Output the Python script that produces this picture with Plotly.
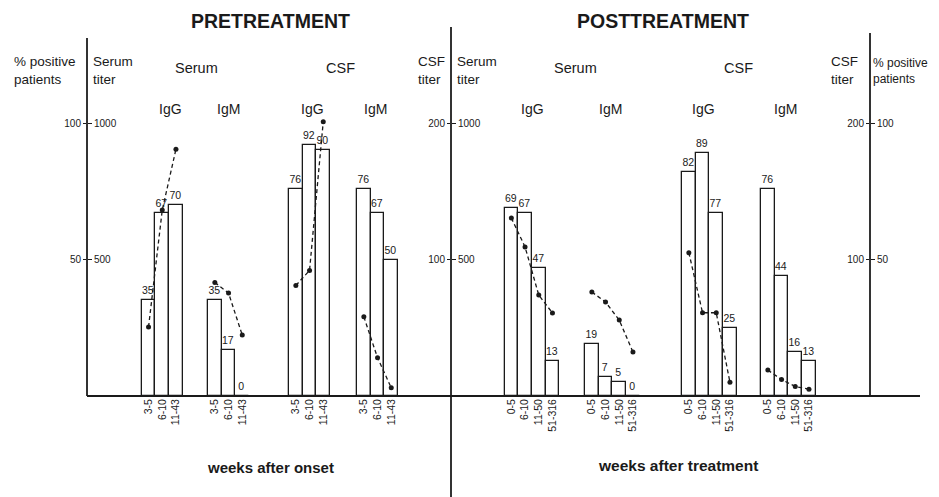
import plotly.graph_objects as go

# ---------------- data ----------------
pre_weeks = ["3-5", "6-10", "11-43"]
post_weeks = ["0-5", "6-10", "11-50", "51-316"]

# % positive patients (bar heights) and printed labels
pre_serum_igg_pct = [35, 67, 70]
pre_serum_igm_pct = [35, 17, 0]
pre_csf_igg_pct = [76, 92, 90]
pre_csf_igm_pct = [76, 67, 50]
post_serum_igg_pct = [69, 67, 47, 13]
post_serum_igm_pct = [19, 7, 5, 0]
post_csf_igg_pct = [82, 89, 67, 25]
post_csf_igm_pct = [76, 44, 16, 13]

pre_serum_igg_lbl = ["35", "67", "70"]
pre_serum_igm_lbl = ["35", "17", "0"]
pre_csf_igg_lbl = ["76", "92", "90"]
pre_csf_igm_lbl = ["76", "67", "50"]
post_serum_igg_lbl = ["69", "67", "47", "13"]
post_serum_igm_lbl = ["19", "7", "5", "0"]
post_csf_igg_lbl = ["82", "89", "77", "25"]
post_csf_igm_lbl = ["76", "44", "16", "13"]

# mean titers (dashed lines)
pre_serum_igg_titer = [253, 681, 904]
pre_serum_igm_titer = [416, 377, 223]
pre_csf_igg_titer = [81, 92, 201]
pre_csf_igm_titer = [58, 28, 6]
post_serum_igg_titer = [652, 546, 370, 304]
post_serum_igm_titer = [381, 344, 278, 161]
post_csf_igg_titer = [105, 61, 61, 10]
post_csf_igm_titer = [19, 12, 7, 5]

# ---------------- layout helpers ----------------
PAGE_W, PAGE_H = 939, 497
OFF = 8                      # page body margin
W, H = PAGE_W - OFF, PAGE_H - OFF
BASE = 396                   # baseline pixel row (page coords)
PPP = 2.73                   # pixels per percent
BAR_W = 13.7
PLOT_H = BASE - OFF          # plot area height in figure
TOP_PCT = PLOT_H / PPP
SERUM_TOP = PLOT_H / 0.273
CSF_TOP = PLOT_H / 1.365
FONT = "Liberation Sans, Arial, sans-serif"
INK = "#1a1a1a"

groups = [
    (141.7, pre_weeks, pre_serum_igg_pct, pre_serum_igg_lbl, pre_serum_igg_titer, "y2"),
    (208.0, pre_weeks, pre_serum_igm_pct, pre_serum_igm_lbl, pre_serum_igm_titer, "y2"),
    (289.0, pre_weeks, pre_csf_igg_pct, pre_csf_igg_lbl, pre_csf_igg_titer, "y3"),
    (357.0, pre_weeks, pre_csf_igm_pct, pre_csf_igm_lbl, pre_csf_igm_titer, "y3"),
    (504.5, post_weeks, post_serum_igg_pct, post_serum_igg_lbl, post_serum_igg_titer, "y4"),
    (585.0, post_weeks, post_serum_igm_pct, post_serum_igm_lbl, post_serum_igm_titer, "y4"),
    (682.0, post_weeks, post_csf_igg_pct, post_csf_igg_lbl, post_csf_igg_titer, "y5"),
    (761.0, post_weeks, post_csf_igm_pct, post_csf_igm_lbl, post_csf_igm_titer, "y5"),
]

fig = go.Figure()
tickvals, ticktext = [], []
for start, weeks, pct, lbl, titer, ax in groups:
    xs = [start + (i + 0.5) * BAR_W for i in range(len(weeks))]
    tickvals += xs
    ticktext += weeks
    fig.add_trace(go.Bar(
        x=xs, y=pct, width=BAR_W, text=lbl, textposition="outside",
        textfont=dict(size=10.5, color=INK, family=FONT), cliponaxis=False,
        constraintext="none",
        marker=dict(color="white", line=dict(color=INK, width=1.3)),
        showlegend=False, hoverinfo="skip"))
    fig.add_trace(go.Scatter(
        x=xs, y=titer, yaxis=ax, mode="lines+markers",
        line=dict(color=INK, width=1.3, dash="4px,3px"),
        marker=dict(color=INK, size=5), cliponaxis=False,
        showlegend=False, hoverinfo="skip"))

tickfont = dict(size=10, color=INK, family=FONT)


def yax(rng, pos, side, vals, overlay=True):
    d = dict(range=[0, rng], anchor="free", position=(pos - OFF) / W, side=side,
             tickvals=vals, ticks="outside", ticklen=4, tickwidth=1.2,
             tickcolor=INK, tickfont=tickfont, showline=False,
             showgrid=False, zeroline=False, fixedrange=True)
    if overlay:
        d["overlaying"] = "y"
    return d


fig.update_layout(
    width=W, height=H, autosize=False,
    margin=dict(l=0, r=0, t=0, b=H - PLOT_H, pad=0),
    paper_bgcolor="white", plot_bgcolor="white",
    bargap=0,
    xaxis=dict(range=[OFF, OFF + W], tickvals=tickvals, ticktext=ticktext,
               tickangle=-90, ticks="", showgrid=False, zeroline=False,
               showline=False, tickfont=dict(size=10.5, color=INK, family=FONT),
               fixedrange=True),
    yaxis=yax(TOP_PCT, 87, "left", [50, 100], overlay=False),
    yaxis2=yax(SERUM_TOP, 87, "right", [500, 1000]),
    yaxis3=yax(CSF_TOP, 451, "left", [100, 200]),
    yaxis4=yax(SERUM_TOP, 451, "right", [500, 1000]),
    yaxis5=yax(CSF_TOP, 870, "left", [100, 200]),
    yaxis6=yax(TOP_PCT, 870, "right", [50, 100]),
)
fig.add_trace(go.Scatter(x=[None], y=[None], yaxis="y6", showlegend=False))


def px_x(xpx):
    return (xpx - OFF) / W


def px_y(ypx):
    return (BASE - ypx) / PLOT_H


def vline(xpx, y0px, y1px):
    fig.add_shape(type="line", xref="paper", yref="paper",
                  x0=px_x(xpx), x1=px_x(xpx), y0=px_y(y0px), y1=px_y(y1px),
                  line=dict(color="#333", width=2))


vline(87, 38, BASE)
vline(451, 27, PAGE_H + 5)
vline(870, 33, BASE)
fig.add_shape(type="line", xref="paper", yref="paper", x0=px_x(87), x1=px_x(920),
              y0=0, y1=0, line=dict(color=INK, width=2))


def ann(x, ypx, text, size=13, bold=False, xanchor="center", align="center"):
    fig.add_annotation(x=px_x(x), y=px_y(ypx), xref="paper", yref="paper",
                       text=text, showarrow=False, xanchor=xanchor,
                       yanchor="middle", align=align,
                       font=dict(size=size, color=INK, family=FONT,
                                 weight="bold" if bold else "normal"))


ann(270, 21, "PRETREATMENT", size=19.5, bold=True)
ann(663, 21, "POSTTREATMENT", size=19.5, bold=True)

ann(12, 71, "% positive<br>patients", size=13.5, xanchor="left", align="left")
ann(91, 71, "Serum<br>titer", size=13.5, xanchor="left", align="left")
ann(416, 71, "CSF<br>titer", size=13.5, xanchor="left", align="left")
ann(455, 71, "Serum<br>titer", size=13.5, xanchor="left", align="left")
ann(829, 71, "CSF<br>titer", size=13.5, xanchor="left", align="left")
ann(871, 71, "% positive<br>patients", size=12, xanchor="left", align="left")

ann(196, 68, "Serum", size=14.5)
ann(340, 68, "CSF", size=14.5)
ann(575, 68, "Serum", size=14.5)
ann(738, 68, "CSF", size=14.5)

for x, t in [(170, "IgG"), (228, "IgM"), (312, "IgG"), (375, "IgM"),
             (532, "IgG"), (610, "IgM"), (703, "IgG"), (785, "IgM")]:
    ann(x, 109, t, size=14)

ann(270, 467, "weeks after onset", size=15, bold=True)
ann(678, 465, "weeks after treatment", size=15.5, bold=True)

fig.write_html("out.html")
